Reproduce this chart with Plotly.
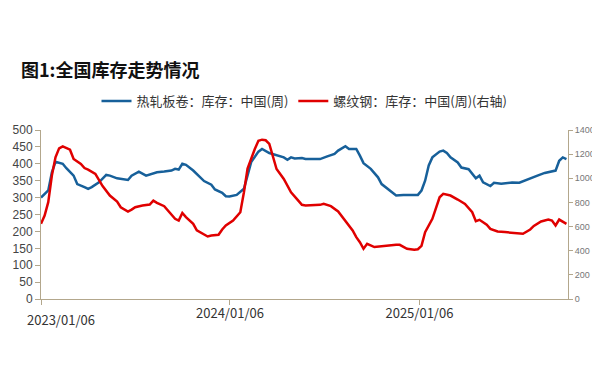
import plotly.graph_objects as go

# 热轧板卷：库存：中国(周)  (left axis)
hr_dates = ["2023-01-06","2023-01-13","2023-01-20","2023-01-27","2023-02-03","2023-02-17","2023-02-24","2023-03-10","2023-03-17","2023-03-31",
            "2023-04-07","2023-04-14","2023-04-28","2023-05-12","2023-05-19","2023-06-02","2023-06-09","2023-06-23","2023-06-30","2023-07-14",
            "2023-07-28","2023-08-11","2023-08-18","2023-09-01","2023-09-15","2023-09-22","2023-09-29","2023-10-06","2023-10-13","2023-10-27",
            "2023-11-10","2023-11-17","2023-12-01","2023-12-08","2023-12-22","2023-12-29","2024-01-05","2024-01-19","2024-02-02","2024-02-09",
            "2024-02-16","2024-03-01","2024-03-08","2024-03-22","2024-03-29","2024-04-05","2024-04-19","2024-04-26","2024-05-03","2024-05-10",
            "2024-05-24","2024-05-31","2024-06-14","2024-06-28","2024-07-12","2024-07-26","2024-08-02","2024-08-16","2024-08-23","2024-09-06",
            "2024-09-13","2024-09-20","2024-10-04","2024-10-18","2024-10-25","2024-11-08","2024-11-22","2024-12-06","2024-12-20","2025-01-03",
            "2025-01-10","2025-01-17","2025-01-24","2025-01-31","2025-02-14","2025-02-21","2025-02-28","2025-03-07","2025-03-21","2025-03-28",
            "2025-04-11","2025-04-18","2025-04-25","2025-05-02","2025-05-09","2025-05-23","2025-05-30","2025-06-13","2025-06-27","2025-07-04",
            "2025-07-18","2025-08-01","2025-08-08","2025-08-22","2025-09-05","2025-09-19","2025-09-26","2025-10-03","2025-10-10","2025-10-17"]
hr_values = [300, 310, 321, 375, 406, 400, 387, 365, 340, 331,
             326, 331, 345, 367, 365, 357, 355, 352, 365, 377,
             365, 373, 375, 377, 380, 385, 383, 400, 397, 380,
             360, 349, 338, 324, 314, 304, 303, 308, 326, 365,
             405, 436, 444, 432, 429, 424, 419, 412, 419, 416,
             417, 414, 415, 414, 422, 429, 439, 452, 444, 444,
             424, 402, 385, 360, 340, 324, 306, 308, 308, 308,
             321, 350, 395, 419, 436, 439, 432, 419, 404, 389,
             384, 372, 357, 365, 345, 334, 344, 341, 344, 345,
             344, 353, 357, 365, 373, 377, 380, 409, 419, 414]

# 螺纹钢：库存：中国(周)  (right axis)
rb_dates = ["2023-01-06","2023-01-13","2023-01-20","2023-01-27","2023-02-03","2023-02-10","2023-02-17","2023-03-03","2023-03-10","2023-03-24",
            "2023-03-31","2023-04-07","2023-04-21","2023-04-28","2023-05-05","2023-05-19","2023-06-02","2023-06-09","2023-06-23","2023-06-30",
            "2023-07-07","2023-07-21","2023-08-04","2023-08-11","2023-08-18","2023-09-01","2023-09-08","2023-09-15","2023-09-22","2023-09-29",
            "2023-10-06","2023-10-13","2023-10-27","2023-11-03","2023-11-17","2023-11-24","2023-12-01","2023-12-15","2023-12-22","2023-12-29",
            "2024-01-12","2024-01-26","2024-02-02","2024-02-09","2024-02-23","2024-03-01","2024-03-08","2024-03-15","2024-03-22","2024-03-29",
            "2024-04-05","2024-04-19","2024-04-26","2024-05-03","2024-05-17","2024-05-24","2024-05-31","2024-06-14","2024-06-28","2024-07-05",
            "2024-07-19","2024-08-02","2024-08-16","2024-08-30","2024-09-06","2024-09-13","2024-09-20","2024-09-27","2024-10-11","2024-10-25",
            "2024-11-08","2024-11-22","2024-11-29","2024-12-13","2024-12-27","2025-01-03","2025-01-10","2025-01-17","2025-01-31","2025-02-07",
            "2025-02-14","2025-02-21","2025-02-28","2025-03-07","2025-03-21","2025-04-04","2025-04-18","2025-04-25","2025-05-02","2025-05-16",
            "2025-05-23","2025-06-06","2025-06-20","2025-07-04","2025-07-18","2025-07-25","2025-08-08","2025-08-15","2025-08-29","2025-09-12",
            "2025-09-19","2025-09-26","2025-10-03","2025-10-10","2025-10-17"]
rb_values = [623, 691, 802, 1022, 1174, 1248, 1265, 1237, 1160, 1119,
             1085, 1072, 1036, 981, 935, 857, 807, 760, 725, 741,
             760, 774, 782, 815, 796, 769, 733, 700, 664, 650,
             713, 678, 623, 568, 532, 518, 526, 532, 576, 609,
             650, 719, 884, 1080, 1243, 1311, 1320, 1315, 1284, 1187,
             1077, 995, 939, 884, 815, 780, 774, 774, 780, 788,
             769, 725, 650, 568, 512, 471, 416, 457, 430, 438,
             444, 449, 449, 416, 408, 412, 440, 554, 664, 747,
             843, 871, 865, 857, 824, 788, 719, 645, 656, 615,
             581, 559, 554, 548, 548, 540, 576, 605, 642, 658,
             650, 609, 658, 642, 623]

x_tick_vals = ["2023-01-06", "2024-01-06", "2025-01-06"]
x_tick_text = ["", "2024/01/06", "2025/01/06"]
first_tick_label = "2023/01/06"

AXIS_COLOR = "#B3A78C"
BLUE = "#17609A"
RED = "#E00000"
CJK = "Noto Sans CJK SC"

fig = go.Figure()
fig.add_trace(go.Scatter(x=hr_dates, y=hr_values, mode="lines",
                         name="热轧板卷：库存：中国(周)",
                         line=dict(color=BLUE, width=2.5)))
fig.add_trace(go.Scatter(x=rb_dates, y=rb_values, mode="lines",
                         name="螺纹钢：库存：中国(周)(右轴)",
                         line=dict(color=RED, width=2.5), yaxis="y2"))

# The page body adds an 8px offset; the figure is sized so the plot lands where the reference has it.
fig.update_layout(
    width=592, height=365,
    margin=dict(l=33, r=32, t=122, b=74, autoexpand=False),
    paper_bgcolor="white", plot_bgcolor="white",
    showlegend=True,
    legend=dict(orientation="h", x=0.5, xanchor="center", y=1.172, yanchor="middle",
                font=dict(family=CJK, size=13, color="#333333"),
                itemwidth=30, tracegroupgap=0, bgcolor="rgba(0,0,0,0)"),
    xaxis=dict(type="date", range=["2023-01-06", "2025-10-20"],
               tickvals=x_tick_vals, ticktext=x_tick_text, automargin=False,
               showline=True, linecolor=AXIS_COLOR, linewidth=1,
               ticks="outside", ticklen=5, tickcolor=AXIS_COLOR, ticklabelstandoff=-3,
               showgrid=False, zeroline=False,
               tickfont=dict(family=CJK, size=13, color="#333333")),
    yaxis=dict(range=[0, 500], dtick=50, showline=True, linecolor=AXIS_COLOR, linewidth=1,
               ticks="outside", ticklen=5, tickcolor=AXIS_COLOR, automargin=False,
               showgrid=False, zeroline=False,
               tickfont=dict(family="Liberation Sans, Arial", size=12, color="#444444")),
    yaxis2=dict(range=[0, 1400], dtick=200, overlaying="y", side="right",
                showline=True, linecolor=AXIS_COLOR, linewidth=1, automargin=False,
                ticks="outside", ticklen=4, tickcolor=AXIS_COLOR,
                showgrid=False, zeroline=False,
                tickfont=dict(family="Liberation Sans, Arial", size=9, color="#777777")),
    annotations=[
        dict(text="<b>图1:全国库存走势情况</b>", xref="paper", yref="paper",
             x=-0.041, y=1.36, xanchor="left", yanchor="middle", showarrow=False,
             font=dict(family=CJK, size=18, color="#111111")),
        dict(text=first_tick_label, xref="paper", yref="paper",
             x=-0.03, y=-0.052, xanchor="left", yanchor="top", showarrow=False,
             font=dict(family=CJK, size=13, color="#333333")),
    ],
)

fig.write_html("out.html")
